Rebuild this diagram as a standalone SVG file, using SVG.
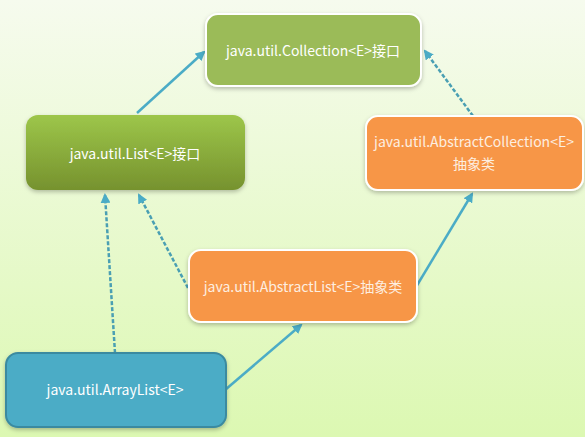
<svg xmlns="http://www.w3.org/2000/svg" width="585" height="437" viewBox="0 0 585 437">
<defs>
<linearGradient id="bg" x1="0" y1="0" x2="0" y2="1">
<stop offset="0" stop-color="#f6fbee"/>
<stop offset="1" stop-color="#dcf8b2"/>
</linearGradient>
<linearGradient id="gList" x1="0" y1="0" x2="0" y2="1">
<stop offset="0" stop-color="#9dc64a"/>
<stop offset="1" stop-color="#76922e"/>
</linearGradient>
<filter id="sh" x="-10%" y="-10%" width="120%" height="130%">
<feDropShadow dx="0" dy="2" stdDeviation="2" flood-color="#000" flood-opacity="0.25"/>
</filter>
<marker id="ah" viewBox="0 0 10 10" refX="8" refY="5" markerWidth="4" markerHeight="4" orient="auto">
<path d="M0,0 L10,5 L0,10 Z" fill="#4bacc6"/>
</marker>
</defs>
<style>
.t{font-family:"Noto Sans CJK SC","Open Sans",sans-serif;font-size:14px;text-anchor:middle;fill:#ffffff}
.to{fill:#fdeee0}
.solid{stroke:#4bacc6;stroke-width:2.5;fill:none;marker-end:url(#ah)}
.dash{stroke:#4a9fb3;stroke-width:2.5;fill:none;stroke-dasharray:4 2;marker-end:url(#ah)}
</style>
<rect width="585" height="437" fill="url(#bg)"/>
<g id="connectors">
<line class="solid" x1="137" y1="113" x2="204" y2="52"/>
<line class="dash" x1="473" y1="116" x2="425" y2="51"/>
<line class="dash" x1="188" y1="288" x2="139" y2="195"/>
<line class="dash" x1="115" y1="353" x2="105" y2="195"/>
<line class="solid" x1="416" y1="287" x2="472" y2="194"/>
<line class="solid" x1="225" y1="390" x2="301" y2="325"/>
</g>
<g id="collection">
<rect x="206" y="14" width="215" height="72" rx="12" fill="#9bbb59" stroke="#ffffff" stroke-width="2" filter="url(#sh)"/>
<text class="t" x="313" y="56">java.util.Collection&lt;E&gt;接口</text>
</g>
<g id="list">
<rect x="26" y="115" width="219" height="75" rx="12" fill="url(#gList)" filter="url(#sh)"/>
<text class="t" x="135" y="159">java.util.List&lt;E&gt;接口</text>
</g>
<g id="abstractCollection">
<rect x="366" y="116" width="217" height="74" rx="12" fill="#f79646" stroke="#ffffff" stroke-width="2" filter="url(#sh)"/>
<text class="t to" x="474" y="147">java.util.AbstractCollection&lt;E&gt;</text>
<text class="t to" x="474" y="169">抽象类</text>
</g>
<g id="abstractList">
<rect x="189" y="250" width="228" height="72" rx="12" fill="#f79646" stroke="#ffffff" stroke-width="2" filter="url(#sh)"/>
<text class="t to" x="303" y="292">java.util.AbstractList&lt;E&gt;抽象类</text>
</g>
<g id="arrayList">
<rect x="6" y="353" width="220" height="74" rx="12" fill="#4bacc6" stroke="#3a8aa0" stroke-width="2" filter="url(#sh)"/>
<text class="t" x="115" y="395">java.util.ArrayList&lt;E&gt;</text>
</g>
</svg>
